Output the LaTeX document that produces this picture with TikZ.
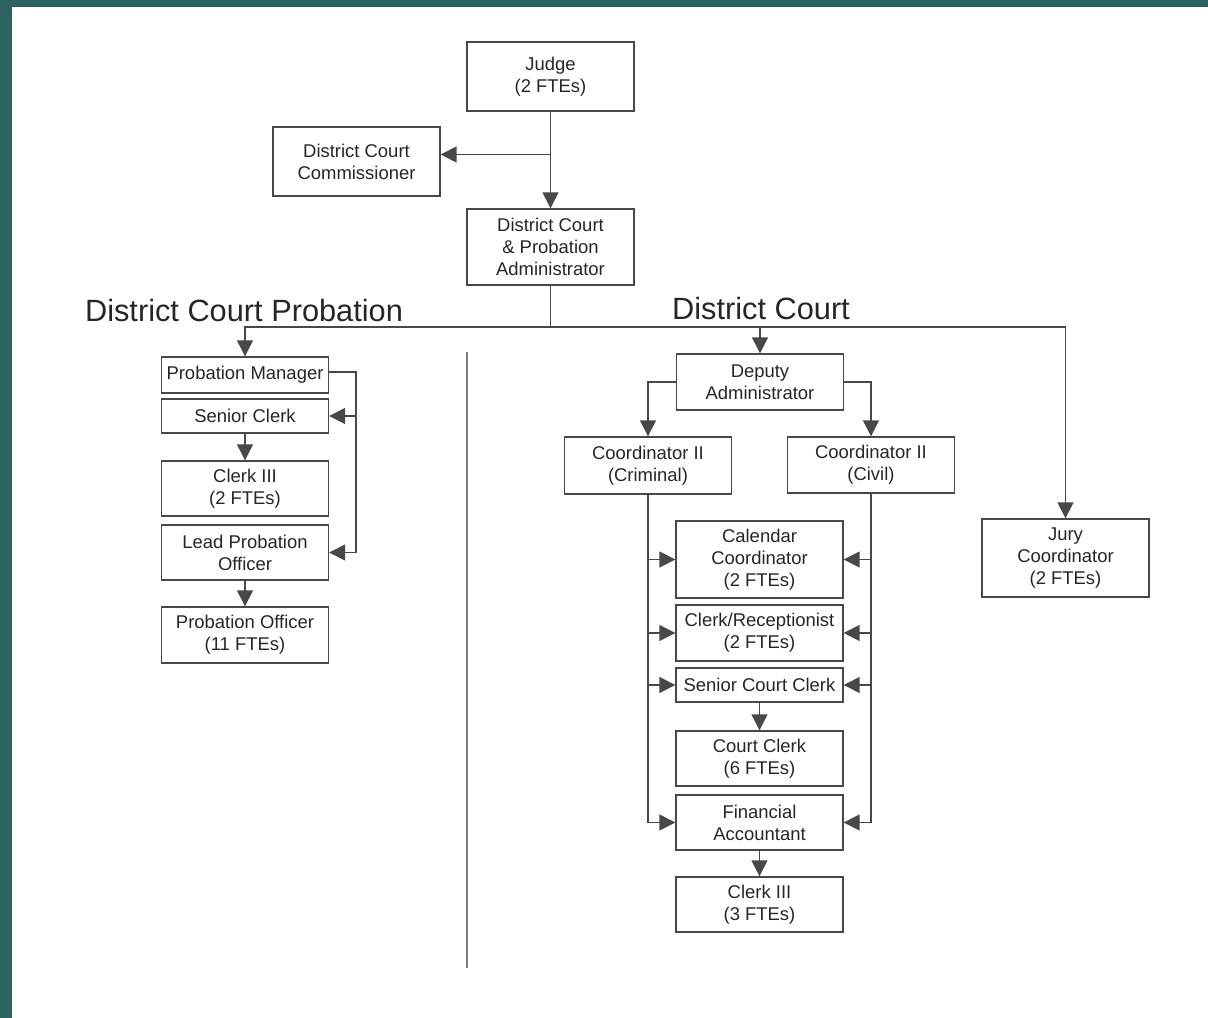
\documentclass[tikz,border=0pt]{standalone}
\usepackage{fontspec}
\setmainfont{Liberation Sans}
\usepackage{tikz}
\usetikzlibrary{arrows.meta}

\definecolor{frame}{RGB}{44,98,96}
\definecolor{ink}{RGB}{72,72,72}

\begin{document}
\begin{tikzpicture}[x=0.02cm, y=-0.02cm,
  post/.style={draw=ink, line width=0.8pt, fill=white, minimum width=3.34cm,
    align=center, inner sep=2pt, text=black!85,
    font=\fontsize{10.5}{12.5}\selectfont},
  arr/.style={draw=ink, line width=0.8pt, -{Triangle[length=0.32cm, width=0.32cm]}},
  head/.style={inner sep=0pt, text=black!85, font=\fontsize{17.5}{20}\selectfont}]
\useasboundingbox (0,0) rectangle (1208,1018);

%frame
\fill[frame] (0,0) rectangle (1208,1018);
\fill[white] (12,7) rectangle (1208,1018);

%post: name, x, y, height, text
\def\Post#1#2#3#4#5{
\node[post, minimum height=#4*0.02cm] (#1) at (#2, #3) {#5};
}

%top
\Post{judge}{550.5}{76.5}{69}{Judge\\(2 FTEs)}
\Post{comm}{356.5}{161.5}{69}{District Court\\Commissioner}
\Post{admin}{550.5}{247}{76}{District Court\\\& Probation\\Administrator}
\coordinate (commin) at ([yshift=0.14cm]comm.east);
\draw[arr] (judge) -- (admin);
\draw[arr] (judge.south |- commin) -- (commin);

%headings
\node[head] (hprob) at (244,311) {District Court Probation};
\node[head] (hcourt) at (761,309) {District Court};

%probation
\Post{pm}{245}{375}{36}{Probation Manager}
\Post{sclerk}{245}{416}{34}{Senior Clerk}
\Post{clerkA}{245}{488.5}{55}{Clerk III\\(2 FTEs)}
\Post{lpo}{245}{552.5}{55}{Lead Probation\\Officer}
\Post{po}{245}{635}{56}{Probation Officer\\(11 FTEs)}
\draw[arr] (sclerk) -- (clerkA);
\draw[arr] (lpo) -- (po);
\draw[arr] ([yshift=0.06cm]pm.east) -| ([xshift=0.54cm]lpo.east) -- (lpo.east);
\draw[arr] ([xshift=0.54cm]sclerk.east) -- (sclerk.east);

%court
\Post{dep}{760}{382}{56}{Deputy\\Administrator}
\Post{crim}{648}{465.5}{57}{Coordinator II\\(Criminal)}
\Post{civil}{871}{465}{56}{Coordinator II\\(Civil)}
\Post{jury}{1065.5}{558}{78}{Jury\\Coordinator\\(2 FTEs)}
\Post{cal}{759.5}{559.5}{77}{Calendar\\Coordinator\\(2 FTEs)}
\Post{recep}{759.5}{633}{56}{Clerk/Receptionist\\(2 FTEs)}
\Post{scc}{759.5}{685}{34}{Senior Court Clerk}
\Post{cc}{759.5}{758.5}{55}{Court Clerk\\(6 FTEs)}
\Post{fin}{759.5}{822.5}{55}{Financial\\Accountant}
\Post{clerkB}{759.5}{904.5}{55}{Clerk III\\(3 FTEs)}
\draw[arr] (dep.west) -| (crim.north);
\draw[arr] (dep.east) -| (civil.north);
\draw[arr] (scc) -- (cc);
\draw[arr] (fin) -- (clerkB);
\draw[arr] (crim.south) |- (fin.west);
\draw[arr] (civil.south) |- (fin.east);
\foreach \n in {cal,recep,scc}
{ \draw[arr] (crim.south |- \n) -- (\n.west);
  \draw[arr] (civil.south |- \n) -- (\n.east); }

%bus
\coordinate (bus) at (550.5,327);
\draw[draw=ink, line width=0.8pt] (admin) -- (bus);
\draw[arr] (bus) -| (pm.north);
\draw[arr] (bus) -| (jury.north);
\draw[arr] (dep.north |- bus) -- (dep.north);

%divider
\draw[ink!70, line width=0.8pt] (467,352) -- (467,968);
\end{tikzpicture}
\end{document}
